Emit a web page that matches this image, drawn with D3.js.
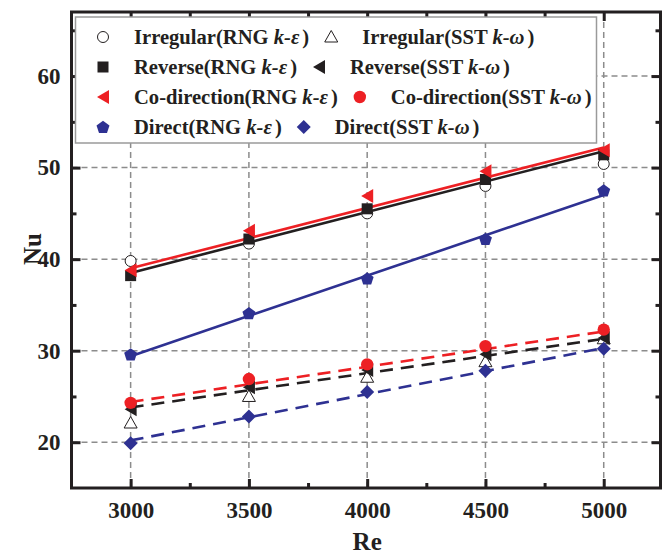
<!DOCTYPE html>
<html>
<head>
<meta charset="utf-8">
<script src="https://cdn.jsdelivr.net/npm/d3@7"></script>
<style>
  html, body { margin: 0; padding: 0; background: #fff; }
  svg { display: block; }
  text { font-family: "Liberation Serif", "Times New Roman", serif; font-weight: bold; fill: #231F20; }
</style>
</head>
<body>
<svg id="chart" width="662" height="558"></svg>
<script>
// ---------- data ----------
const re = [3000, 3500, 4000, 4500, 5000];
const irregularRNG = [39.8, 41.7, 45.0, 48.0, 50.4];
const reverseRNG   = [38.2, 42.2, 45.5, 48.7, 51.4];
const coRNG        = [38.8, 43.1, 46.9, 49.6, 51.9];
const directRNG    = [29.6, 34.1, 37.9, 42.2, 47.5];
const irregularSST = [22.1, 25.0, 27.1, 28.8, 31.3];
const reverseSST   = [23.6, 26.0, 27.9, 29.6, 31.4];
const coSST        = [24.3, 26.9, 28.5, 30.5, 32.3];
const directSST    = [19.9, 22.8, 25.5, 27.8, 30.2];

// fitted trend lines: value at Re=3000 and Re=5000
const fitRe = [3000, 5000];
const fitCoRNG      = [39.0, 52.2];
const fitReverseRNG = [38.5, 51.8];
const fitDirectRNG  = [29.4, 47.0];
const fitCoSST      = [24.4, 32.1];
const fitReverseSST = [23.8, 31.3];
const fitDirectSST  = [20.2, 30.3];

const xTicks = [3000, 3500, 4000, 4500, 5000];
const xMinor = [3250, 3750, 4250, 4750];
const yTicks = [20, 30, 40, 50, 60];
const yMinor = [25, 35, 45, 55, 65];

const RED = "#ED2024", BLUE = "#2E3192", BLACK = "#231F20";

const svg = d3.select("#chart");
const L = 71.5, R = 660.5, T = 12, B = 488;
const x = d3.scaleLinear().domain([2750, 5240]).range([L, R]);
const y = d3.scaleLinear().domain([15, 67]).range([B, T]);

// ---------- grid ----------
const grid = svg.append("g").attr("stroke", "#8C8C8C").attr("stroke-width", 1.5)
  .attr("stroke-dasharray", "6,4").attr("fill", "none");
xTicks.forEach(v => grid.append("line").attr("x1", x(v)).attr("x2", x(v)).attr("y1", T).attr("y2", B));
yTicks.forEach(v => grid.append("line").attr("x1", L).attr("x2", R).attr("y1", y(v)).attr("y2", y(v)));

// ---------- axes (ticks inward, mirrored) ----------
function axisG(axis, tr) {
  const g = svg.append("g").attr("transform", tr).call(axis);
  g.select(".domain").remove();
  g.selectAll(".tick line").attr("stroke", BLACK).attr("stroke-width", 3);
  return g;
}
const xb = axisG(d3.axisBottom(x).tickValues(xTicks).tickSize(-9).tickPadding(14).tickFormat(d3.format("d")), `translate(0,${B})`);
xb.selectAll("text").attr("font-size", 23).attr("font-family", null).attr("dy", "0.71em").attr("y", 14);
axisG(d3.axisBottom(x).tickValues(xMinor).tickSize(-5).tickFormat(""), `translate(0,${B})`);
axisG(d3.axisTop(x).tickValues(xTicks).tickSize(-9).tickFormat(""), `translate(0,${T})`);
axisG(d3.axisTop(x).tickValues(xMinor).tickSize(-5).tickFormat(""), `translate(0,${T})`);
const yl = axisG(d3.axisLeft(y).tickValues(yTicks).tickSize(-9).tickPadding(12).tickFormat(d3.format("d")), `translate(${L},0)`);
yl.selectAll("text").attr("font-size", 23).attr("font-family", null).attr("x", -11);
axisG(d3.axisLeft(y).tickValues(yMinor).tickSize(-5).tickFormat(""), `translate(${L},0)`);
axisG(d3.axisRight(y).tickValues(yTicks).tickSize(-9).tickFormat(""), `translate(${R},0)`);
axisG(d3.axisRight(y).tickValues(yMinor).tickSize(-5).tickFormat(""), `translate(${R},0)`);
svg.selectAll(".tick text").style("font-family", '"Liberation Serif", "Times New Roman", serif').style("font-weight", "bold").attr("fill", BLACK);

// frame
svg.append("rect").attr("x", L).attr("y", T).attr("width", R - L).attr("height", B - T)
  .attr("fill", "none").attr("stroke", BLACK).attr("stroke-width", 3);

// axis titles
svg.append("text").attr("x", x(4000)).attr("y", 550).attr("text-anchor", "middle").attr("font-size", 25).text("Re");
svg.append("text").attr("transform", `translate(41,249) rotate(-90)`).attr("text-anchor", "middle").attr("font-size", 25).text("Nu");

// ---------- fit lines ----------
const line = d3.line().x(d => x(d[0])).y(d => y(d[1]));
const fits = [
  { v: fitReverseRNG, c: BLACK, dash: null },
  { v: fitCoRNG, c: RED, dash: null },
  { v: fitDirectRNG, c: BLUE, dash: null },
  { v: fitReverseSST, c: BLACK, dash: "13,8" },
  { v: fitCoSST, c: RED, dash: "13,8" },
  { v: fitDirectSST, c: BLUE, dash: "13,8" }
];
fits.forEach(f => {
  svg.append("path").datum(d3.zip(fitRe, f.v)).attr("d", line)
    .attr("fill", "none").attr("stroke", f.c).attr("stroke-width", 2.6)
    .attr("stroke-dasharray", f.dash);
});

// ---------- markers ----------
function pentPath(r) {
  const pts = d3.range(5).map(i => {
    const a = -Math.PI / 2 + i * 2 * Math.PI / 5;
    return [r * Math.cos(a), r * Math.sin(a) + 0.6];
  });
  return "M" + pts.map(p => p.join(",")).join("L") + "Z";
}
const shapes = {
  circleOpen: g => g.append("circle").attr("r", 5.5).attr("fill", "#fff").attr("stroke", BLACK).attr("stroke-width", 1),
  triUpOpen: g => g.append("path").attr("d", "M0,-6.5L6.5,5L-6.5,5Z").attr("fill", "#fff").attr("stroke", BLACK).attr("stroke-width", 1),
  square: (g, c) => g.append("rect").attr("x", -5.5).attr("y", -5.5).attr("width", 11).attr("height", 11).attr("fill", c),
  triLeft: (g, c) => g.append("path").attr("d", "M-6,0L6,-7L6,7Z").attr("fill", c),
  dot: (g, c) => g.append("circle").attr("r", 6.2).attr("fill", c),
  pentagon: (g, c) => g.append("path").attr("d", pentPath(6.8)).attr("fill", c),
  diamond: (g, c) => g.append("path").attr("d", "M0,-7L7,0L0,7L-7,0Z").attr("fill", c)
};

const series = [
  { name: "Irregular(RNG ", model: "k-ε", v: irregularRNG, shape: "circleOpen", c: BLACK },
  { name: "Irregular(SST ", model: "k-ω", v: irregularSST, shape: "triUpOpen", c: BLACK },
  { name: "Reverse(RNG ", model: "k-ε", v: reverseRNG, shape: "square", c: BLACK },
  { name: "Reverse(SST ", model: "k-ω", v: reverseSST, shape: "triLeft", c: BLACK },
  { name: "Co-direction(RNG ", model: "k-ε", v: coRNG, shape: "triLeft", c: RED },
  { name: "Co-direction(SST ", model: "k-ω", v: coSST, shape: "dot", c: RED },
  { name: "Direct(RNG ", model: "k-ε", v: directRNG, shape: "pentagon", c: BLUE },
  { name: "Direct(SST ", model: "k-ω", v: directSST, shape: "diamond", c: BLUE }
];
series.forEach(s => {
  re.forEach((r, i) => {
    const g = svg.append("g").attr("transform", `translate(${x(r)},${y(s.v[i])})`);
    shapes[s.shape](g, s.c);
  });
});

// ---------- legend ----------
const lg = svg.append("g");
lg.append("rect").attr("x", 75.5).attr("y", 17).attr("width", 521).attr("height", 126)
  .attr("fill", "#fff").attr("stroke", "#9A9A9A").attr("stroke-width", 1.5);
const rowY = [37, 67, 97, 127];
function legendItem(s, mx, cy) {
  const g = lg.append("g").attr("transform", `translate(${mx},${cy})`);
  shapes[s.shape](g, s.c);
  const t = lg.append("text").attr("x", mx + 31).attr("y", cy + 7).attr("font-size", 20.6);
  t.append("tspan").text(s.name);
  t.append("tspan").attr("font-style", "italic").text(s.model);
  t.append("tspan").attr("dx", 3).text(")");
  return mx + 31 + t.node().getComputedTextLength();
}
for (let r = 0; r < 4; r++) {
  const end = legendItem(series[2 * r], 103, rowY[r]);
  legendItem(series[2 * r + 1], end + 25, rowY[r]);
}
</script>
</body>
</html>
